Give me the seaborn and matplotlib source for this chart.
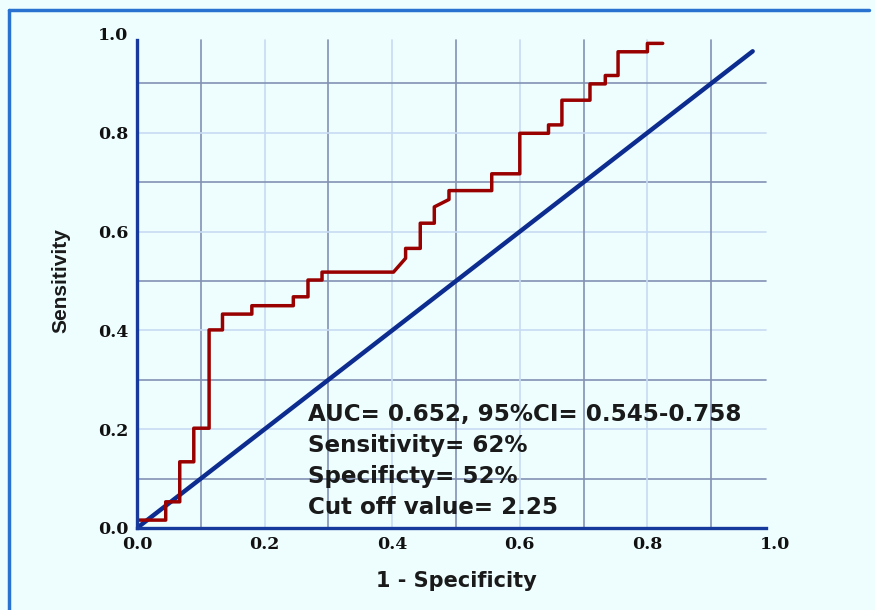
import pandas as pd
import seaborn as sns
import matplotlib.pyplot as plt
from matplotlib.lines import Line2D

sns.set_style("white")

# ROC curve vertices
fpr = [0.0, 0.0, 0.045, 0.045, 0.067, 0.067, 0.089, 0.089, 0.113, 0.113,
       0.134, 0.134, 0.18, 0.18, 0.245, 0.245, 0.268, 0.268, 0.29, 0.29,
       0.402, 0.421, 0.421, 0.444, 0.444, 0.466, 0.466, 0.489, 0.489, 0.556,
       0.556, 0.600, 0.600, 0.645, 0.645, 0.666, 0.666, 0.71, 0.71, 0.734,
       0.734, 0.754, 0.754, 0.80, 0.80, 0.824]
tpr = [0.0, 0.016, 0.016, 0.053, 0.053, 0.134, 0.134, 0.202, 0.202, 0.401,
       0.401, 0.433, 0.433, 0.45, 0.45, 0.468, 0.468, 0.502, 0.502, 0.518,
       0.518, 0.546, 0.566, 0.566, 0.617, 0.617, 0.65, 0.665, 0.683, 0.683,
       0.717, 0.717, 0.799, 0.799, 0.816, 0.816, 0.866, 0.866, 0.899, 0.899,
       0.916, 0.916, 0.964, 0.964, 0.981, 0.981]
ref_line = [0.0, 0.965]

tick_vals = [0.0, 0.2, 0.4, 0.6, 0.8, 1.0]
tick_labels = ["0.0", "0.2", "0.4", "0.6", "0.8", "1.0"]
stats_text = ["AUC= 0.652, 95%CI= 0.545-0.758",
              "Sensitivity= 62%",
              "Specificty= 52%",
              "Cut off value= 2.25"]

bg = "#eefefe"
navy = "#0d2c8f"

roc = pd.DataFrame({"fpr": fpr, "tpr": tpr})
diag = pd.DataFrame({"x": ref_line, "y": ref_line})

fig = plt.figure(figsize=(8.75, 6.1), dpi=100, facecolor=bg)
ax = fig.add_axes([137 / 875, 1 - 528 / 610, 638 / 875, 494 / 610])
ax.set_facecolor(bg)
ax.set_xlim(0, 1)
ax.set_ylim(0, 1)

xmax, ymax = 0.986, 0.988
for i in range(1, 10):
    v = i / 10
    c = "#8391b3" if i % 2 else "#c8daf3"
    ax.plot([v, v], [0, ymax], color=c, lw=1.2, zorder=1)
    ax.plot([0, xmax], [v, v], color=c, lw=1.2, zorder=1)

sns.lineplot(data=diag, x="x", y="y", color=navy, lw=3.2, ax=ax, zorder=3)
sns.lineplot(data=roc, x="fpr", y="tpr", sort=False, estimator=None,
             color="#990000", lw=2.5, ax=ax, zorder=4)

for s in ["top", "right"]:
    ax.spines[s].set_visible(False)
ax.spines["bottom"].set_bounds(0, xmax)
ax.spines["left"].set_bounds(0, ymax)
for s in ["bottom", "left"]:
    ax.spines[s].set_color("#16399e")
    ax.spines[s].set_linewidth(2.4)
    ax.spines[s].set_zorder(5)

ax.set_xticks(tick_vals)
ax.set_xticklabels(tick_labels)
ax.set_yticks(tick_vals)
ax.set_yticklabels(tick_labels)
ax.tick_params(length=0, pad=6)
for lab in ax.get_xticklabels() + ax.get_yticklabels():
    lab.set_fontfamily("DejaVu Serif")
    lab.set_fontweight("bold")
    lab.set_fontsize(12.5)
    lab.set_color("#111111")

ax.set_xlabel("1 - Specificity", fontsize=15, fontweight="bold",
              family="DejaVu Sans", labelpad=13, color="#1a1a1a")
ax.set_ylabel("Sensitivity", fontsize=15, fontweight="bold",
              family="Liberation Sans", labelpad=20, color="#1a1a1a")

for k, line in enumerate(stats_text):
    ax.text(0.268, 0.23 - k * 0.0625, line, fontsize=16.6, fontweight="bold",
            family="DejaVu Sans", color="#1a1a1a", va="center", zorder=6)

# outer frame of the picture
fig.add_artist(Line2D([9 / 875, 9 / 875], [0, 1 - 10 / 610], color="#2a72d0",
                      lw=2.5, transform=fig.transFigure))
fig.add_artist(Line2D([9 / 875, 869 / 875], [1 - 10 / 610, 1 - 10 / 610],
                      color="#2a72d0", lw=2.5, transform=fig.transFigure))

fig.savefig("out.png", dpi=100, facecolor=bg)
